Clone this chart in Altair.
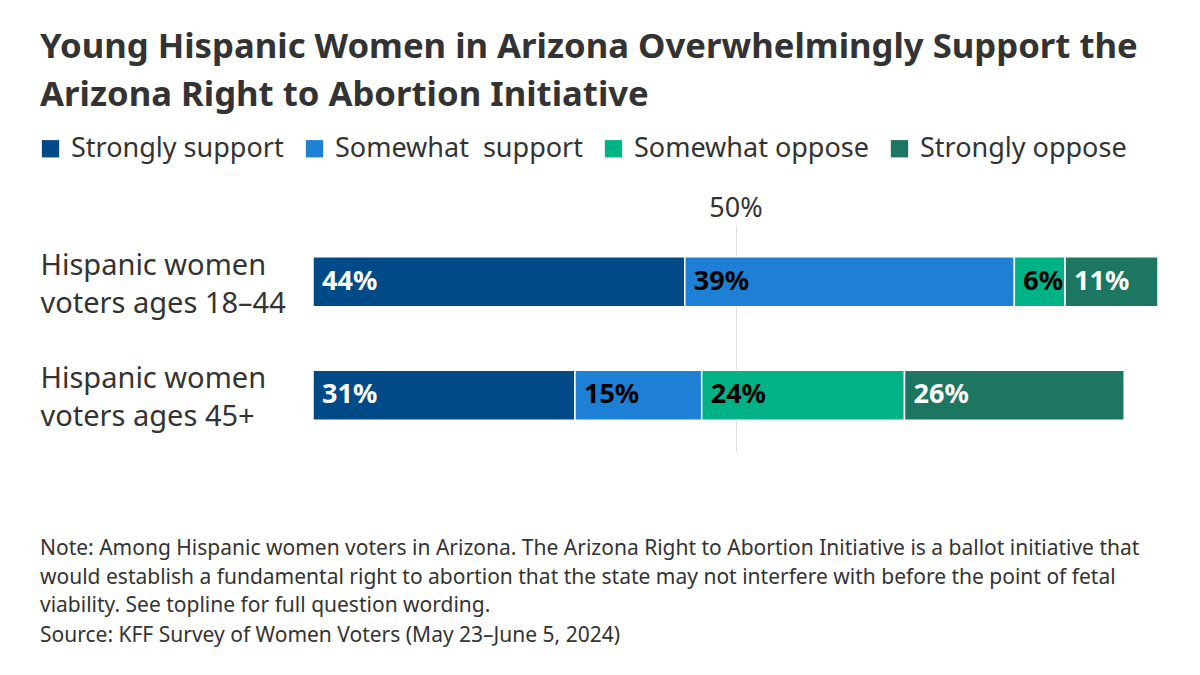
import altair as alt
import pandas as pd

groups = ["Hispanic women|voters ages 18–44", "Hispanic women|voters ages 45+"]
categories = ["Strongly support", "Somewhat\u00a0 support", "Somewhat oppose", "Strongly oppose"]
colors = ["#004a87", "#1d80d4", "#00b386", "#1c7662"]
label_colors = ["white", "black", "black", "white"]
values_young = [44, 39, 6, 11]
values_older = [31, 15, 24, 26]

title_lines = [
    "Young Hispanic Women in Arizona Overwhelmingly Support the",
    "Arizona Right to Abortion Initiative",
]
note_lines = [
    "Note: Among Hispanic women voters in Arizona. The Arizona Right to Abortion Initiative is a ballot initiative that",
    "would establish a fundamental right to abortion that the state may not interfere with before the point of fetal",
    "viability. See topline for full question wording.",
]
source_line = "Source: KFF Survey of Women Voters (May 23–June 5, 2024)"

rows = []
for g, vals in zip(groups, [values_young, values_older]):
    for i, (c, v) in enumerate(zip(categories, vals)):
        rows.append({"group": g, "category": c, "value": v, "idx": i,
                     "label": f"{v}%", "tcolor": label_colors[i]})
df = pd.DataFrame(rows)

FONT = "Noto Sans"
W, H = 845, 227

base = alt.Chart(df).transform_stack(
    stack="value", groupby=["group"], as_=["start", "end"],
    sort=[alt.SortField("idx", order="ascending")]
)

y_enc = alt.Y("group:N", sort=groups, title=None,
              scale=alt.Scale(paddingInner=0.56, paddingOuter=0.28),
              axis=alt.Axis(domain=False, ticks=False, tickSize=0, grid=False,
                            labelAlign="left", labelPadding=273, labelBaseline="middle",
                            labelFontSize=29, labelColor="#333333", labelFont=FONT,
                            labelLineHeight=38, labelLimit=400, labelOffset=-16,
                            labelExpr="split(datum.label, '|')"))

bars = base.mark_bar(stroke="white", strokeWidth=1.5).encode(
    x=alt.X("start:Q", scale=alt.Scale(domain=[0, 100], nice=False, zero=True),
            title=None,
            axis=alt.Axis(orient="top", values=[50], domain=False, ticks=False,
                          grid=True, gridColor="#dddddd", gridWidth=1,
                          labelExpr="datum.value + '%'", labelFontSize=27,
                          labelColor="#333333", labelFont=FONT, labelPadding=3)),
    x2="end:Q",
    y=y_enc,
    color=alt.Color("category:N", sort=categories,
                    scale=alt.Scale(domain=categories, range=colors),
                    legend=alt.Legend(title=None, orient="none", direction="horizontal",
                                      legendX=-276, legendY=-90, padding=0,
                                      symbolType="square", symbolSize=300,
                                      symbolStrokeWidth=0, symbolOpacity=1,
                                      labelFontSize=27, labelFont=FONT,
                                      labelColor="#333333", labelOffset=7,
                                      columnPadding=17, labelLimit=400)),
)

texts = base.mark_text(align="left", baseline="middle", dx=9, fontSize=27,
                       fontWeight="bold", font=FONT).encode(
    x="start:Q",
    y=alt.Y("group:N", sort=groups),
    text="label:N",
    color=alt.Color("tcolor:N", scale=None, legend=None),
)

one = pd.DataFrame({"k": [0]})
note = alt.Chart(one).mark_text(align="left", baseline="alphabetic", fontSize=21,
                                font=FONT, color="#333333", lineHeight=28.5).encode(
    x=alt.value(-273), y=alt.value(330), text=alt.value(note_lines))
source = alt.Chart(one).mark_text(align="left", baseline="alphabetic", fontSize=21,
                                  font=FONT, color="#333333").encode(
    x=alt.value(-273), y=alt.value(417), text=alt.value(source_line))

chart = alt.layer(bars, texts, note, source).properties(
    width=W, height=H,
    autosize=alt.AutoSizeParams(type="none"),
    padding={"left": 305, "top": 217, "right": 30, "bottom": 200},
    title=alt.TitleParams(text=title_lines, anchor="start", frame="group",
                          dx=-273, fontSize=34.7, fontWeight="bold", font=FONT,
                          color="#333333", lineHeight=48, offset=21),
).configure_view(stroke=None)

chart.save("out.html", embed_options={"renderer": "svg", "actions": False})
